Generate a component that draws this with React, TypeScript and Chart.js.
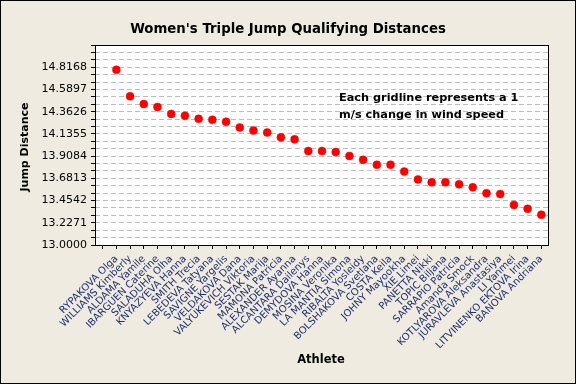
import React, { useEffect, useRef } from "react";
import { Chart, registerables } from "chart.js";

Chart.register(...registerables);

const athletes = [
  "RYPAKOVA Olga", "WILLIAMS Kimberly", "ALDAMA Yamile", "IBARGUEN Caterine",
  "SALADUHA Olha", "KNYAZYEVA Hanna", "SMITH Trecia", "LEBEDEVA Tatyana",
  "SAVIGNE Yargelis", "VELDAKOVA Dana", "VALYUKEVICH Viktoria", "SESTAK Marija",
  "MAMONA Patricia", "ALEXANDER Ayanna", "ALCANTARA Dailenys", "DEMYDOVA Hanna",
  "MOSINA Veronika", "LA MANTIA Simona", "RIBALTA Yosleidy", "BOLSHAKOVA Svetlana",
  "COSTA Keila", "JOHNY Mayookha", "XIE Limei", "PANETTA Nikki",
  "TOPIC Biljana", "SARRAPIO Patricia", "Amanda Smock", "KOTLYAROVA Aleksandra",
  "JURAVLEVA Anastasiya", "LI Yanmei", "LITVINENKO EKTOVA Irina", "BANOVA Andriana",
];

const distances = [
  14.79, 14.52, 14.44, 14.41, 14.34, 14.32, 14.29, 14.28,
  14.26, 14.2, 14.17, 14.15, 14.1, 14.08, 13.96, 13.96,
  13.95, 13.91, 13.87, 13.82, 13.82, 13.75, 13.67, 13.64,
  13.64, 13.62, 13.59, 13.53, 13.52, 13.41, 13.37, 13.31,
];

const yTickLabels = [
  "13.0000", "13.2271", "13.4542", "13.6813", "13.9084",
  "14.1355", "14.3626", "14.5897", "14.8168",
];

const yMin = 13.0;
const yMax = 15.0439;
const gridlinesPerLabel = 3;
const gridCount = 27;

const chartTitle = "Women's Triple Jump Qualifying Distances";
const yTitle = "Jump Distance";
const xTitle = "Athlete";
const noteLines = ["Each gridline represents a 1", "m/s change in wind speed"];

const decorPlugin = {
  id: "decor",
  beforeDraw(chart: any) {
    const { ctx, chartArea: a, width, height } = chart;
    ctx.save();
    ctx.fillStyle = "#EFEBE0";
    ctx.fillRect(0, 0, width, height);
    ctx.fillStyle = "#FFFFFF";
    ctx.fillRect(a.left, a.top, a.right - a.left, a.bottom - a.top);
    ctx.restore();
  },
  afterDraw(chart: any) {
    const { ctx, chartArea: a, width, height } = chart;
    ctx.save();
    ctx.strokeStyle = "#000";
    ctx.lineWidth = 1;
    ctx.strokeRect(a.left + 0.5, a.top + 0.5, a.right - a.left - 1, a.bottom - a.top);
    ctx.strokeRect(0.5, 0.5, width - 1, height - 1);

    ctx.fillStyle = "#000";
    ctx.textAlign = "center";
    ctx.textBaseline = "middle";
    ctx.font = "bold 13.3px 'DejaVu Sans'";
    ctx.fillText(chartTitle, 288, 30);

    ctx.font = "bold 11.5px 'DejaVu Sans'";
    ctx.fillText(xTitle, 321, 360);

    ctx.save();
    ctx.translate(25, 147);
    ctx.rotate(-Math.PI / 2);
    ctx.font = "bold 11px 'DejaVu Sans'";
    ctx.fillText(yTitle, 0, 0);
    ctx.restore();

    ctx.textAlign = "left";
    ctx.font = "bold 11.3px 'DejaVu Sans'";
    ctx.fillText(noteLines[0], 339, 98);
    ctx.fillText(noteLines[1], 339, 115);
    ctx.restore();
  },
};

export default function App() {
  const ref = useRef<HTMLCanvasElement>(null);

  useEffect(() => {
    if (!ref.current) return;
    const step = (parseFloat(yTickLabels[1]) - parseFloat(yTickLabels[0])) / gridlinesPerLabel;
    const chart = new Chart(ref.current, {
      type: "scatter",
      data: {
        datasets: [
          {
            data: distances.map((d, i) => ({ x: i + 1, y: d })),
            backgroundColor: "#FF0000",
            borderColor: "#FF0000",
            pointRadius: 4,
            pointBorderWidth: 0.5,
          },
        ],
      },
      options: {
        animation: false,
        responsive: false,
        devicePixelRatio: 1,
        layout: { padding: { top: 45, right: 27, left: 0, bottom: 0 } },
        plugins: {
          legend: { display: false },
          tooltip: { enabled: false },
          title: { display: false },
        },
        scales: {
          x: {
            type: "linear",
            min: -0.56,
            max: athletes.length + 0.56,
            afterBuildTicks: (axis: any) => {
              axis.ticks = Array.from({ length: athletes.length + 1 }, (_, i) => ({ value: i }));
            },
            afterFit: (scale: any) => {
              scale.height = 139;
            },
            grid: {
              drawOnChartArea: false,
              drawTicks: true,
              tickLength: 4,
              tickColor: "#000",
              tickWidth: 1,
            },
            border: { display: false },
            ticks: {
              autoSkip: false,
              minRotation: 45,
              maxRotation: 45,
              padding: 4,
              color: "#1E3070",
              font: { family: "'DejaVu Sans'", size: 10 },
              callback: (value: any) => {
                const v = Math.round(Number(value));
                return v >= 1 ? athletes[v - 1] : "";
              },
            },
          },
          y: {
            type: "linear",
            min: yMin,
            max: yMax,
            afterBuildTicks: (axis: any) => {
              axis.ticks = Array.from({ length: gridCount + 1 }, (_, k) => ({ value: yMin + k * step }));
            },
            afterFit: (scale: any) => {
              scale.width = 95;
            },
            grid: {
              color: "#BDBDBD",
              lineWidth: 1,
              drawTicks: true,
              tickLength: 4,
              tickColor: "#000",
              tickWidth: 1,
            },
            border: { display: false, dash: [5, 3] },
            ticks: {
              autoSkip: false,
              padding: 4,
              color: "#000",
              font: { family: "'DejaVu Sans'", size: 11 },
              callback: (_v: any, index: number) =>
                index % gridlinesPerLabel === 0 && index / gridlinesPerLabel < yTickLabels.length
                  ? yTickLabels[index / gridlinesPerLabel]
                  : "",
            },
          },
        },
      },
      plugins: [decorPlugin],
    });
    return () => chart.destroy();
  }, []);

  return (
    <div style={{ position: "absolute", left: 0, top: 0, width: 576, height: 384 }}>
      <canvas ref={ref} width={576} height={384} />
    </div>
  );
}
